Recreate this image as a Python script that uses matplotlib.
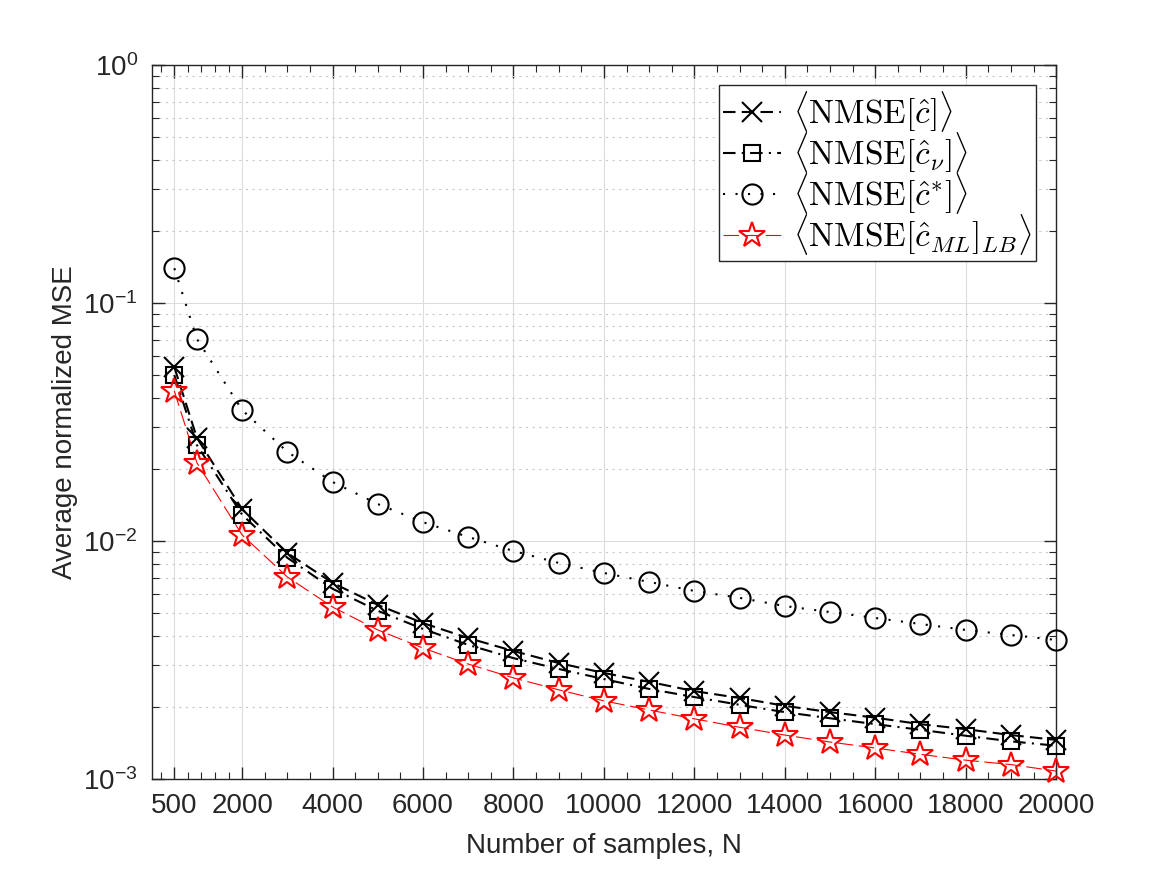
import matplotlib
matplotlib.use("Agg")
import matplotlib.pyplot as plt
from matplotlib.font_manager import FontProperties
import numpy as np

plt.rcParams['font.family'] = 'Liberation Sans'
plt.rcParams['mathtext.fontset'] = 'custom'
plt.rcParams['mathtext.rm'] = 'Liberation Sans'
plt.rcParams['mathtext.it'] = 'Liberation Sans:italic'

# Number of samples
N = [500, 1000, 2000, 3000, 4000, 5000, 6000, 7000, 8000, 9000, 10000,
     11000, 12000, 13000, 14000, 15000, 16000, 17000, 18000, 19000, 20000]

nmseC = [0.0538, 0.0271, 0.0136, 0.0089, 0.00667, 0.00539, 0.00452, 0.00391,
         0.00345, 0.00307, 0.00279, 0.00256, 0.00234, 0.00219, 0.00203,
         0.00191, 0.00181, 0.00170, 0.00162, 0.00153, 0.00146]
nmseCnu = [0.0498, 0.0253, 0.0129, 0.0085, 0.0063, 0.00509, 0.00427, 0.00366,
           0.00322, 0.0029, 0.00263, 0.00239, 0.00221, 0.00205, 0.00191,
           0.0018, 0.0017, 0.00161, 0.00152, 0.00144, 0.00138]
nmseCstar = [0.140, 0.0706, 0.0355, 0.0237, 0.0177, 0.0143, 0.0120, 0.0104,
             0.00908, 0.00809, 0.00734, 0.00673, 0.00617, 0.00577, 0.00533,
             0.00503, 0.00475, 0.00448, 0.00423, 0.00403, 0.00384]
nmseML = [0.0427, 0.0213, 0.0106, 0.00706, 0.00528, 0.00423, 0.00355, 0.00304,
          0.00266, 0.00237, 0.00213, 0.00195, 0.00179, 0.00165, 0.00153,
          0.00143, 0.00135, 0.00127, 0.0012, 0.00115, 0.00108]

labels = [r'$\langle \mathrm{NMSE}[\hat{c}] \rangle$',
          r'$\langle \mathrm{NMSE}[\hat{c}_{\nu}] \rangle$',
          r'$\langle \mathrm{NMSE}[\hat{c}^{*}] \rangle$',
          r'$\langle \mathrm{NMSE}[\hat{c}_{ML}]_{LB} \rangle$']

xTicks = [500, 2000, 4000, 6000, 8000, 10000, 12000, 14000, 16000, 18000, 20000]

fig = plt.figure(figsize=(11.67, 8.75), dpi=100)
ax = fig.add_axes([0.130, 0.1097, 0.775, 0.816])

ax.plot(N, nmseC, color='k', lw=1.5, ls=(0, (6, 3)), marker='x', ms=14, mew=1.5,
        clip_on=False, zorder=3, label=labels[0])
ax.plot(N, nmseCnu, color='k', lw=1.5, ls=(0, (6, 3, 1, 3)), marker='s', ms=12, mew=1.5,
        mfc='none', clip_on=False, zorder=3, label=labels[1])
ax.plot(N, nmseCstar, color='k', lw=1.5, ls=(0, (1, 5)), marker='o', ms=14.5, mew=1.5,
        mfc='none', clip_on=False, zorder=3, label=labels[2])
ax.plot(N, nmseML, color='r', lw=0.8, ls=(0, (14, 5)), marker='*', ms=19, mew=1.5,
        mfc='none', clip_on=False, zorder=3, label=labels[3])

ax.set_yscale('log')
ax.set_xlim(0, 20000)
ax.set_ylim(1e-3, 1)
ax.set_xticks(xTicks)
ax.set_xticklabels([str(t) for t in xTicks])
ax.set_xticks([200, 800, 1100, 1400, 1700] + list(range(2500, 20000, 500)), minor=True)
ax.set_yticks([1e-3, 1e-2, 1e-1, 1])
ax.set_yticklabels([r'$10^{-3}$', r'$10^{-2}$', r'$10^{-1}$', r'$10^{0}$'])

dark = '#262626'
for s in ax.spines.values():
    s.set_color(dark)
    s.set_linewidth(1.0)
ax.tick_params(which='both', direction='in', top=True, right=True, colors=dark,
               labelsize=20, labelcolor=dark)
ax.tick_params(which='major', length=9, width=1.0, pad=10)
ax.tick_params(which='minor', length=5, width=0.8)

ax.grid(True, which='major', color='#dcdcdc', lw=0.8)
ax.grid(True, which='minor', axis='y', color='#c8c8c8', lw=0.8, ls=(0, (2, 4)))
ax.set_axisbelow(True)

ax.set_xlabel('Number of samples, N', fontsize=20, color=dark, labelpad=10)
ax.set_ylabel('Average normalized MSE', fontsize=20, color=dark, labelpad=4)

legFont = FontProperties(size=24, math_fontfamily='cm')
leg = ax.legend(loc='upper right', prop=legFont, fancybox=False, framealpha=1,
                edgecolor=dark, borderaxespad=0.6, handlelength=1.75,
                handletextpad=0.35, labelspacing=-0.12, borderpad=0.12)
leg.get_frame().set_linewidth(1.0)
leg.set_zorder(5)

fig.savefig('out.png', dpi=100)
